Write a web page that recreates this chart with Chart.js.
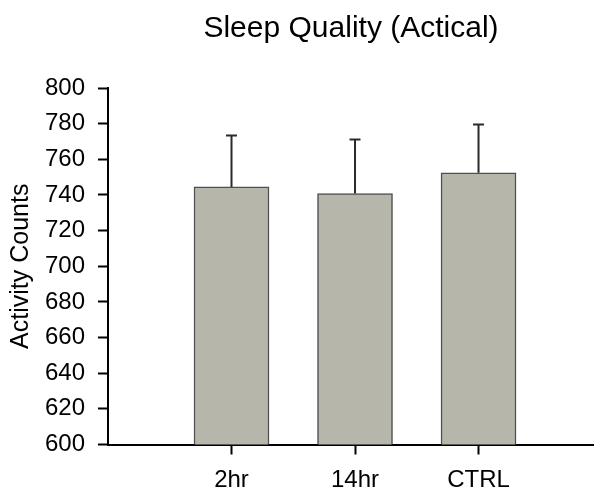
<!DOCTYPE html>
<html>
<head>
<meta charset="utf-8">
<script src="https://cdn.jsdelivr.net/npm/chart.js@4.4.1/dist/chart.umd.min.js"></script>
<style>
  html, body { margin: 0; padding: 0; background: #ffffff; }
  #wrap { width: 594px; height: 492px; }
</style>
</head>
<body>
<div id="wrap"><canvas id="chart" width="594" height="492"></canvas></div>
<script>
// Sleep quality per group: mean activity counts and standard error
const categories = ['2hr', '14hr', 'CTRL'];
const positions = [1, 2, 3];
const meanCounts = [744.5, 740.8, 752.4];
const errorCounts = [28.8, 30.3, 27.1];
const yTicks = [600, 620, 640, 660, 680, 700, 720, 740, 760, 780, 800];

const FONT = '"Liberation Sans", Arial, Helvetica, sans-serif';

// Vertical error bars with a cap, drawn above each bar
const errorBarPlugin = {
  id: 'errorBars',
  afterDatasetsDraw(chart) {
    const meta = chart.getDatasetMeta(0);
    const yScale = chart.scales.y;
    const ctx = chart.ctx;
    ctx.save();
    ctx.strokeStyle = '#2a2a2a';
    ctx.lineWidth = 2;
    meta.data.forEach((bar, i) => {
      const x = bar.x;
      const yBase = yScale.getPixelForValue(meanCounts[i]);
      const yTop = yScale.getPixelForValue(meanCounts[i] + errorCounts[i]);
      ctx.beginPath();
      ctx.moveTo(x, yBase);
      ctx.lineTo(x, yTop);
      ctx.moveTo(x - 5.5, yTop);
      ctx.lineTo(x + 5.5, yTop);
      ctx.stroke();
    });
    ctx.restore();
  }
};

new Chart(document.getElementById('chart'), {
  type: 'bar',
  data: {
    datasets: [{
      data: positions.map((p, i) => ({ x: p, y: meanCounts[i] })),
      backgroundColor: '#b6b6aa',
      borderColor: '#4f4f4f',
      borderWidth: 1.5,
      borderSkipped: 'bottom',
      barThickness: 75
    }]
  },
  options: {
    responsive: false,
    animation: false,
    layout: { padding: { left: 0, right: 0, top: 0, bottom: 0 } },
    plugins: {
      legend: { display: false },
      tooltip: { enabled: false },
      title: {
        display: true,
        text: 'Sleep Quality (Actical)',
        color: '#000',
        fullSize: false,
        font: { family: FONT, size: 30, weight: 'normal', lineHeight: 1.2 },
        padding: { top: 11, bottom: 41 }
      }
    },
    scales: {
      x: {
        type: 'linear',
        min: 0,
        max: 3.935,
        offset: false,
        afterBuildTicks(scale) {
          scale.ticks = positions.map(v => ({ value: v }));
        },
        afterFit(scale) { scale.height = 47.5; },
        grid: {
          display: true,
          offset: false,
          drawOnChartArea: false,
          drawTicks: true,
          tickLength: 10,
          tickWidth: 2,
          tickColor: '#000'
        },
        border: { display: true, color: '#000', width: 2 },
        ticks: {
          color: '#000',
          padding: 11,
          maxRotation: 0,
          autoSkip: false,
          font: { family: FONT, size: 24 },
          callback: (v) => categories[positions.indexOf(v)] ?? ''
        }
      },
      y: {
        min: 600,
        max: 800,
        afterBuildTicks(scale) {
          scale.ticks = yTicks.map(v => ({ value: v }));
        },
        afterFit(scale) { scale.width = 108; },
        grid: {
          display: true,
          drawOnChartArea: false,
          drawTicks: true,
          tickLength: 10,
          tickWidth: 2,
          tickColor: '#000'
        },
        border: { display: true, color: '#000', width: 2 },
        ticks: {
          color: '#000',
          padding: 13,
          font: { family: FONT, size: 24 }
        },
        title: {
          display: true,
          text: 'Activity Counts',
          color: '#000',
          font: { family: FONT, size: 25 },
          padding: { top: 6, bottom: 0 }
        }
      }
    }
  },
  plugins: [errorBarPlugin]
});
</script>
</body>
</html>
